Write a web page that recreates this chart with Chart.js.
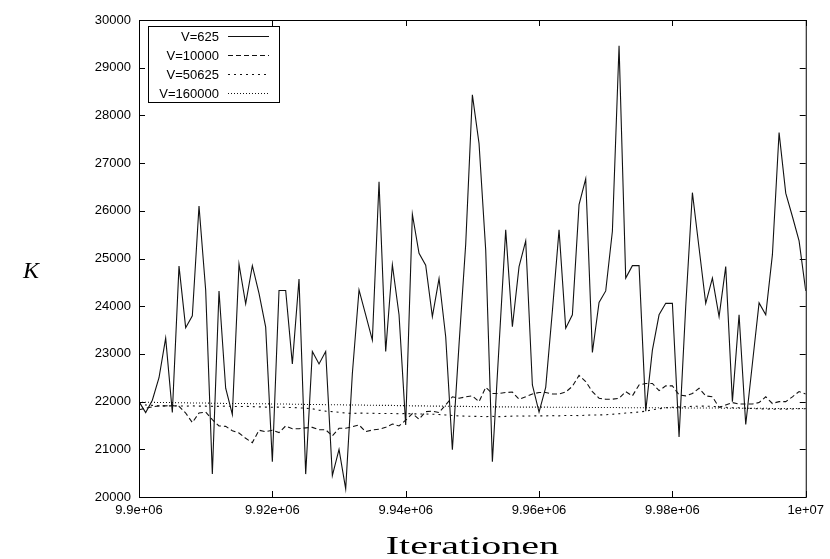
<!DOCTYPE html>
<html>
<head>
<meta charset="utf-8">
<title>K vs Iterationen</title>
<script src="https://cdn.jsdelivr.net/npm/chart.js@4.4.1/dist/chart.umd.min.js"></script>
<style>
  html, body { margin: 0; padding: 0; background: #fff; }
  #chart { display: block; }
</style>
</head>
<body>
<canvas id="chart" width="830" height="559"></canvas>
<script>

// iteration counts, one sample every 1000 steps
const iterations = Array.from({ length: 101 }, (_, i) => 9900000 + i * 1000);

const seriesNames = ['V=625', 'V=10000', 'V=50625', 'V=160000'];

const v625 = [
  22000, 21770, 22030, 22500, 23330, 21770, 24840, 23550, 23800, 26100,
  24340, 20480, 24320, 22280, 21730, 24880, 24050, 24850, 24270, 23560,
  20740, 24330, 24330, 22790, 24570, 20480, 23050, 22790, 23050, 20450,
  21000, 20170, 22590, 24340, 23820, 23290, 26610, 23050, 24870, 23820,
  21510, 25930, 25110, 24860, 23780, 24580, 23360, 20990, 23200, 25300,
  28430, 27410, 25180, 20740, 23170, 25600, 23570, 24830, 25370, 22350,
  21780, 22300, 23900, 25600, 23540, 23820, 26130, 26670, 23030, 24080,
  24320, 25570, 29460, 24590, 24850, 24850, 21800, 23080, 23820, 24060,
  24060, 21260, 24000, 26380, 25220, 24060, 24590, 23780, 24830, 22000,
  23820, 21520, 22800, 24070, 23820, 25080, 27640, 26370, 25880, 25370,
  24320
];

const v10000 = [
  21830, 21860, 21890, 21910, 21910, 21915, 21900, 21760, 21560, 21760,
  21780, 21620, 21490, 21480, 21390, 21340, 21230, 21140, 21400, 21370,
  21400, 21350, 21490, 21430, 21430, 21450, 21460, 21410, 21410, 21280,
  21440, 21440, 21475, 21510, 21370, 21405, 21420, 21460, 21530, 21490,
  21610, 21750, 21630, 21790, 21800, 21770, 21930, 22100, 22070, 22100,
  22120, 22000, 22300, 22170, 22170, 22190, 22200, 22050, 22100, 22160,
  22190, 22190, 22160, 22160, 22200, 22320, 22550, 22420, 22210, 22070,
  22050, 22050, 22070, 22210, 22120, 22350, 22380, 22380, 22230, 22330,
  22330, 22140, 22120, 22170, 22280, 22120, 22100, 21880, 21930, 21980,
  21950, 21950, 21950, 21980, 22100, 21960, 22000, 22000, 22100, 22210,
  22160
];

const v50625 = [
  21950, 21930, 21920, 21910, 21910, 21910, 21910, 21905, 21910, 21905,
  21905, 21900, 21900, 21905, 21900, 21895, 21900, 21895, 21890, 21885,
  21880, 21885, 21880, 21875, 21870, 21860, 21850, 21820, 21800, 21790,
  21775, 21760, 21750, 21760, 21755, 21755, 21750, 21750, 21750, 21745,
  21750, 21745, 21740, 21740, 21735, 21730, 21720, 21710, 21700, 21695,
  21690, 21690, 21685, 21690, 21685, 21690, 21695, 21700, 21695, 21700,
  21700, 21700, 21705, 21700, 21710, 21710, 21705, 21715, 21720, 21720,
  21725, 21735, 21745, 21760, 21770, 21780, 21800, 21830, 21850, 21870,
  21880, 21890, 21895, 21900, 21905, 21905, 21900, 21890, 21880, 21870,
  21870, 21860, 21855, 21850, 21845, 21840, 21845, 21840, 21845, 21850,
  21850
];

const v160000 = [
  21990, 21985, 21985, 21980, 21980, 21980, 21975, 21975, 21970, 21970,
  21970, 21965, 21965, 21960, 21960, 21960, 21960, 21955, 21955, 21955,
  21950, 21950, 21950, 21945, 21945, 21940, 21940, 21940, 21935, 21935,
  21935, 21930, 21930, 21930, 21925, 21925, 21920, 21920, 21920, 21915,
  21915, 21910, 21910, 21910, 21905, 21905, 21905, 21900, 21900, 21900,
  21895, 21895, 21895, 21890, 21890, 21890, 21890, 21885, 21885, 21885,
  21885, 21885, 21880, 21880, 21880, 21880, 21880, 21880, 21875, 21875,
  21875, 21875, 21875, 21870, 21870, 21870, 21870, 21870, 21870, 21870,
  21870, 21870, 21865, 21865, 21865, 21865, 21865, 21865, 21860, 21860,
  21860, 21860, 21860, 21860, 21860, 21855, 21855, 21855, 21855, 21855,
  21855
];

const xTickLabels = ['9.9e+06', '9.92e+06', '9.94e+06', '9.96e+06', '9.98e+06', '1e+07'];
const yTickLabels = ['20000', '21000', '22000', '23000', '24000', '25000',
                     '26000', '27000', '28000', '29000', '30000'];

const allSeries = [v625, v10000, v50625, v160000];
const dashes = [[], [5, 3], [2, 4], [1, 2]];

const tickFont = { family: '"Liberation Sans", Arial, sans-serif', size: 13 };

const datasets = allSeries.map((vals, k) => ({
  label: seriesNames[k],
  data: vals.map((v, i) => ({ x: iterations[i], y: v })),
  borderColor: '#111',
  borderWidth: 1.1,
  borderDash: dashes[k],
  pointRadius: 0,
  tension: 0,
  fill: false
}));

/* gnuplot style frame: box, inward ticks on all sides, key box, axis labels */
const framePlugin = {
  id: 'framePlugin',
  afterDraw(chart) {
    const ctx = chart.ctx;
    const a = chart.chartArea;
    const xs = chart.scales.x, ys = chart.scales.y;
    ctx.save();
    ctx.strokeStyle = '#000';
    ctx.lineWidth = 1;
    ctx.strokeRect(a.left + 0.5, a.top + 0.5, a.right - a.left, a.bottom - a.top);

    const tl = 6;
    ctx.beginPath();
    xs.ticks.forEach(t => {
      const px = Math.round(xs.getPixelForValue(t.value)) + 0.5;
      ctx.moveTo(px, a.bottom); ctx.lineTo(px, a.bottom - tl);
      ctx.moveTo(px, a.top); ctx.lineTo(px, a.top + tl);
    });
    ys.ticks.forEach(t => {
      const py = Math.round(ys.getPixelForValue(t.value)) + 0.5;
      ctx.moveTo(a.left, py); ctx.lineTo(a.left + tl, py);
      ctx.moveTo(a.right, py); ctx.lineTo(a.right - tl, py);
    });
    ctx.stroke();

    // key
    const kx = 148, ky = 26, kw = 131, kh = 76;
    ctx.fillStyle = '#fff';
    ctx.fillRect(kx, ky, kw, kh);
    ctx.strokeRect(kx + 0.5, ky + 0.5, kw, kh);
    ctx.font = '13px "Liberation Sans", Arial, sans-serif';
    ctx.textAlign = 'right';
    ctx.textBaseline = 'middle';
    ctx.fillStyle = '#000';
    seriesNames.forEach((name, k) => {
      const y = 36 + k * 19;
      ctx.fillText(name, 219, y + 1);
      ctx.setLineDash(dashes[k]);
      ctx.strokeStyle = '#111';
      ctx.beginPath();
      ctx.moveTo(228, y + 0.5); ctx.lineTo(269, y + 0.5);
      ctx.stroke();
    });
    ctx.setLineDash([]);

    // axis labels
    ctx.fillStyle = '#000';
    ctx.textAlign = 'center';
    ctx.textBaseline = 'alphabetic';
    ctx.font = 'italic 24px "Liberation Serif", "DejaVu Serif", serif';
    ctx.fillText('K', 31, 278);
    ctx.font = '25px "Liberation Serif", "DejaVu Serif", serif';
    ctx.save();
    ctx.translate((a.left + a.right) / 2, 554);
    ctx.scale(1.6, 1);
    ctx.fillText('Iterationen', 0, 0);
    ctx.restore();
    ctx.restore();
  }
};

new Chart(document.getElementById('chart'), {
  type: 'line',
  data: { datasets: datasets },
  options: {
    responsive: false,
    animation: false,
    devicePixelRatio: 1,
    layout: { padding: { left: 0, top: 20, right: 22, bottom: 0 } },
    plugins: { legend: { display: false }, tooltip: { enabled: false } },
    scales: {
      x: {
        type: 'linear',
        min: 9900000,
        max: 10000000,
        grid: { display: false, drawTicks: false },
        border: { display: false },
        afterFit: s => { s.height = 62; },
        ticks: {
          stepSize: 20000,
          maxRotation: 0,
          autoSkip: false,
          padding: 6,
          color: '#000',
          font: tickFont,
          callback: (v, i) => xTickLabels[i]
        }
      },
      y: {
        min: 20000,
        max: 30000,
        grid: { display: false, drawTicks: false },
        border: { display: false },
        afterFit: s => { s.width = 139; },
        ticks: {
          stepSize: 1000,
          padding: 8,
          color: '#000',
          font: tickFont,
          callback: (v, i) => yTickLabels[i]
        }
      }
    }
  },
  plugins: [framePlugin]
});
</script>
</body>
</html>
